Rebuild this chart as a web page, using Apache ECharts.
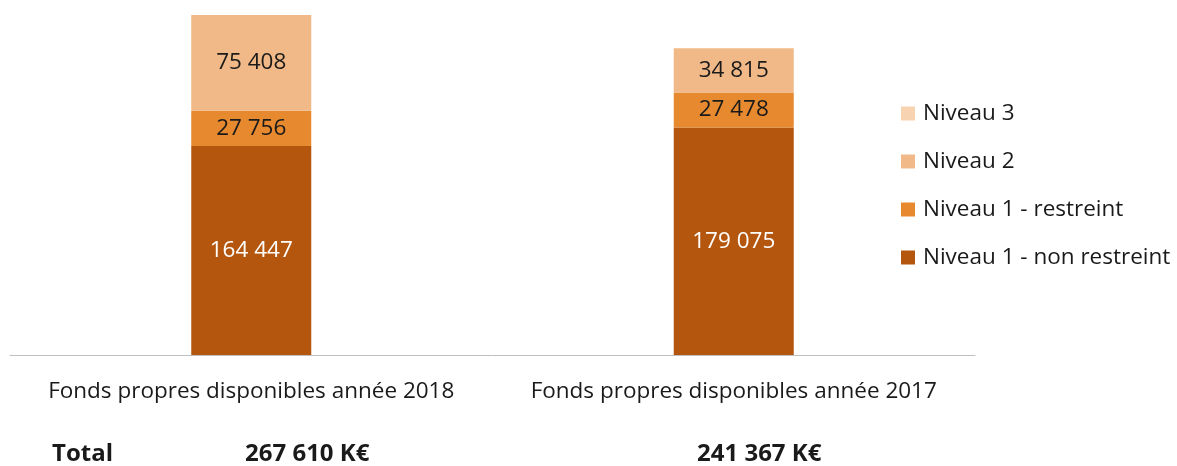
<!DOCTYPE html>
<html><head><meta charset="utf-8">
<script src="https://cdn.jsdelivr.net/npm/echarts@6/dist/echarts.min.js"></script>
<style>html,body{margin:0;padding:0;background:#fff}#c{width:1177px;height:466px}</style>
</head><body><div id="c"></div>
<script>
const categories = ['Fonds propres disponibles année 2018', 'Fonds propres disponibles année 2017'];
const seriesNames = ['Niveau 1 - non restreint', 'Niveau 1 - restreint', 'Niveau 2', 'Niveau 3'];
const niveau1NonRestreint = [164447, 179075];
const niveau1Restreint = [27756, 27478];
const niveau2 = [75408, 34815];
const niveau3 = [0, 0];
const totalLabels = ['267 610 K€', '241 367 K€'];
const totalTitle = 'Total';

const colors = ['#B5560F', '#E6892F', '#F1B987', '#F8D3B2'];
const labelColors = ['#ffffff', '#1a1a1a', '#1a1a1a', '#1a1a1a'];
const values = [niveau1NonRestreint, niveau1Restreint, niveau2, niveau3];
const fmt = v => String(v).replace(/\B(?=(\d{3})+(?!\d))/g, ' ');
const stackMax = Math.max(...categories.map((_, i) => values.reduce((s, a) => s + a[i], 0)));

const font = 'Open Sans';
const chart = echarts.init(document.getElementById('c'));
chart.setOption({
  animation: false,
  grid: { left: 10, right: 202, top: 15, bottom: 111, containLabel: false },
  xAxis: {
    type: 'category', data: categories,
    axisLine: { lineStyle: { color: '#bfbfbf', width: 1 } },
    axisTick: { show: false },
    axisLabel: { interval: 0, hideOverlap: false, color: '#1a1a1a', fontFamily: font, fontSize: 22.5, margin: 25 }
  },
  yAxis: { type: 'value', min: 0, max: stackMax, show: false, splitLine: { show: false } },
  legend: {
    orient: 'vertical', left: 896, top: 97, itemGap: 25,
    itemWidth: 14, itemHeight: 14, icon: 'rect',
    data: seriesNames.slice().reverse(),
    textStyle: { color: '#1a1a1a', fontFamily: font, fontSize: 22.5, padding: [0, 0, 0, 3] }
  },
  series: seriesNames.map((n, k) => ({
    name: n, type: 'bar', stack: 'a', barWidth: 120,
    data: values[k],
    itemStyle: { color: colors[k] },
    label: {
      show: k < 3, position: 'inside', color: labelColors[k],
      fontFamily: font, fontSize: 22.5,
      formatter: p => p.value ? fmt(p.value) : ''
    }
  })),
  graphic: [
    { type: 'text', left: 52, top: 442, style: { text: totalTitle, font: 'bold 24px "Open Sans"', fill: '#1a1a1a' } },
    { type: 'text', left: 245, top: 442, style: { text: totalLabels[0], font: 'bold 24px "Open Sans"', fill: '#1a1a1a' } },
    { type: 'text', left: 697, top: 442, style: { text: totalLabels[1], font: 'bold 24px "Open Sans"', fill: '#1a1a1a' } }
  ]
});
</script></body></html>
